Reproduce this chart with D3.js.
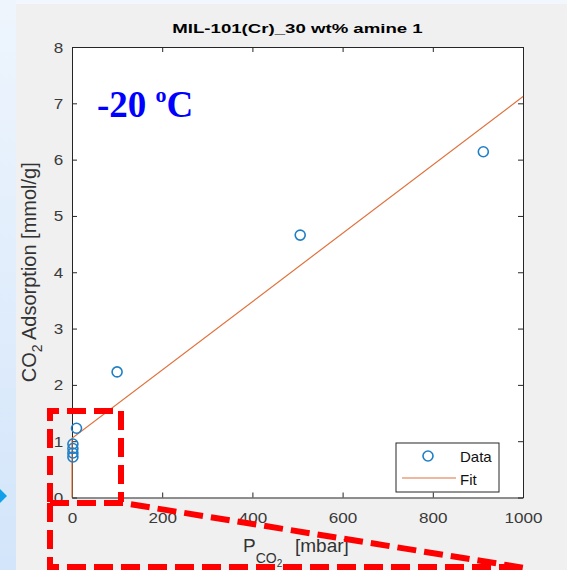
<!DOCTYPE html>
<html>
<head>
<meta charset="utf-8">
<script src="https://cdn.jsdelivr.net/npm/d3@7"></script>
<style>
  body { margin: 0; background: #f0f0f0; }
  svg { display: block; }
</style>
</head>
<body>
<div id="app"></div>
<script>
// values
let dataX = [912, 506, 100, 10, 2, 2, 2, 2];
let dataY = [6.14, 4.66, 2.23, 1.23, 0.95, 0.87, 0.79, 0.72];
let fitX = [0, 0, 1000];
let fitY = [0, 1.05, 7.12];
let xTicks = [0, 200, 400, 600, 800, 1000];
let yTicks = [0, 1, 2, 3, 4, 5, 6, 7, 8];
let seriesNames = ['Data', 'Fit'];
let chartTitle = 'MIL-101(Cr)_30 wt% amine 1';

let font = '"Liberation Sans", Arial, Helvetica, sans-serif';
let margin = { top: 47, left: 72, bottom: 72.5, right: 44 };
let W = 567, H = 570;
let w = W - margin.left - margin.right; let h = H - margin.top - margin.bottom;

let svg = d3.select('#app').append('svg')
.attr('width', W)
.attr('height', H);

// slide background: grey panel, light blue strips on top and left
let defs = svg.append('defs');
let grad = defs.append('linearGradient')
.attr('id', 'side')
.attr('x1', 0).attr('y1', 0).attr('x2', 0).attr('y2', 1);
grad.append('stop').attr('offset', '0%').attr('stop-color', '#eef5fd');
grad.append('stop').attr('offset', '100%').attr('stop-color', '#d3e5fa');

svg.append('rect').attr('width', W).attr('height', H).attr('fill', '#f0f0f0');
svg.append('rect').attr('width', W).attr('height', 4).attr('fill', '#f2f7fd');
svg.append('rect').attr('width', 16).attr('height', H).attr('fill', 'url(#side)');
svg.append('path').attr('d', 'M0,489L7,496L0,503Z').attr('fill', '#12a0ea');

let g = svg.append('g')
.attr('transform', 'translate(' + margin.left + ',' + margin.top + ')');

g.append('rect').attr('width', w).attr('height', h).attr('fill', '#fff');

let xScale = d3.scaleLinear()
.domain([0, 1000])
.range([0, w]);

let yScale = d3.scaleLinear()
.domain([0, 8])
.range([h, 0]);

// MATLAB style box with inward ticks on all four sides
let yg = g.append('g')
.attr('class', 'y axis')
.call(d3.axisLeft(yScale).tickValues(yTicks).tickFormat(d3.format('d')).tickSizeInner(-5).tickSizeOuter(0));

let xg = g.append('g')
.attr('class', 'x axis')
.attr('transform', 'translate(0,' + h + ')')
.call(d3.axisBottom(xScale).tickValues(xTicks).tickFormat(d3.format('d')).tickSizeInner(-5).tickSizeOuter(0));

g.append('g')
.attr('class', 'top axis')
.call(d3.axisTop(xScale).tickValues(xTicks).tickSizeInner(-5).tickSizeOuter(0).tickFormat(''));

g.append('g')
.attr('class', 'right axis')
.attr('transform', 'translate(' + w + ',0)')
.call(d3.axisRight(yScale).tickValues(yTicks).tickSizeInner(-5).tickSizeOuter(0).tickFormat(''));

g.selectAll('.axis path, .axis line').attr('stroke', '#262626').attr('stroke-width', 1);

yg.selectAll('text')
.attr('x', -7.2)
.attr('dy', '0.36em')
.attr('transform', 'scale(1.22,1)');

xg.selectAll('text')
.attr('y', 26)
.attr('dy', 0)
.attr('transform', 'scale(1.22,1)');

g.selectAll('.axis text')
.attr('font-family', font)
.attr('font-size', 14)
.attr('fill', '#3a3a3a');

// fit line
let ln = d3.line()
.x((d) => xScale(d[0]))
.y((d) => yScale(d[1]));

g.append('path')
.datum(fitX.map((x, i) => [x, fitY[i]]))
.attr('fill', 'none')
.attr('stroke', '#e0733f')
.attr('stroke-width', 1.2)
.attr('d', ln);

// data markers
g.selectAll('circle.pt')
.data(dataX.map((x, i) => [x, dataY[i]]))
.enter().append('circle')
.attr('class', 'pt')
.attr('cx', (d) => xScale(d[0]))
.attr('cy', (d) => yScale(d[1]))
.attr('r', 5)
.attr('fill', 'none')
.attr('stroke', '#1f7fc6')
.attr('stroke-width', 1.6);

// legend
let lg = g.append('g').attr('transform', 'translate(' + (w - 127) + ',' + (h - 54.5) + ')');
lg.append('rect')
.attr('width', 103).attr('height', 49)
.attr('fill', '#fff').attr('stroke', '#262626').attr('stroke-width', 1);
lg.append('circle')
.attr('cx', 32).attr('cy', 13).attr('r', 5)
.attr('fill', 'none').attr('stroke', '#1f7fc6').attr('stroke-width', 1.6);
lg.append('line')
.attr('x1', 6).attr('x2', 60).attr('y1', 35).attr('y2', 35)
.attr('stroke', '#e0733f').attr('stroke-width', 1.2);
lg.selectAll('text.leg')
.data(seriesNames)
.enter().append('text')
.attr('class', 'leg')
.attr('x', 64)
.attr('y', (d, i) => 19 + i * 23)
.attr('font-family', font)
.attr('font-size', 15)
.attr('fill', '#111')
.text((d) => d);

// title
svg.append('text')
.attr('transform', 'translate(' + (margin.left + w / 2) + ',33) scale(1.36,1)')
.attr('text-anchor', 'middle')
.attr('font-family', font)
.attr('font-weight', 'bold')
.attr('font-size', 13.7)
.attr('fill', '#000')
.text(chartTitle);

// axis labels
let yl = svg.append('text')
.attr('transform', 'translate(35.5,' + (margin.top + h / 2) + ') rotate(-90)')
.attr('text-anchor', 'middle')
.attr('font-family', font)
.attr('font-size', 20)
.attr('fill', '#333');
yl.append('tspan').text('CO');
yl.append('tspan').attr('font-size', 14).attr('dy', 6).text('2');
yl.append('tspan').attr('dy', -6).text(' Adsorption [mmol/g]');

let xl = svg.append('text')
.attr('x', 243)
.attr('y', 552)
.attr('font-family', font)
.attr('font-size', 19)
.attr('fill', '#333');
xl.append('tspan').text('P');
xl.append('tspan').attr('font-size', 14).attr('dy', 11).text('CO');
xl.append('tspan').attr('font-size', 10).attr('dy', 4).text('2');
xl.append('tspan').attr('x', 295).attr('y', 552).text('[mbar]');

// annotation text
let ann = svg.append('text')
.attr('x', 97)
.attr('y', 117)
.attr('font-family', '"Liberation Serif", "Times New Roman", serif')
.attr('font-weight', 'bold')
.attr('font-size', 37)
.attr('fill', '#0000ff');
ann.append('tspan').text('-20 ');
ann.append('tspan').attr('font-size', 22).attr('dy', -15).text('o');
ann.append('tspan').attr('dy', 15).text('C');

// red dashed zoom callout
let red = svg.append('g')
.attr('fill', 'none')
.attr('stroke', '#ff0000')
.attr('stroke-width', 6)
.attr('stroke-dasharray', '19,8');
red.append('path').attr('d', 'M50,502V411H121V502');
red.append('path').attr('d', 'M50,503H123L525,568');
red.append('path').attr('d', 'M50,503V567H525');
</script>
</body>
</html>
